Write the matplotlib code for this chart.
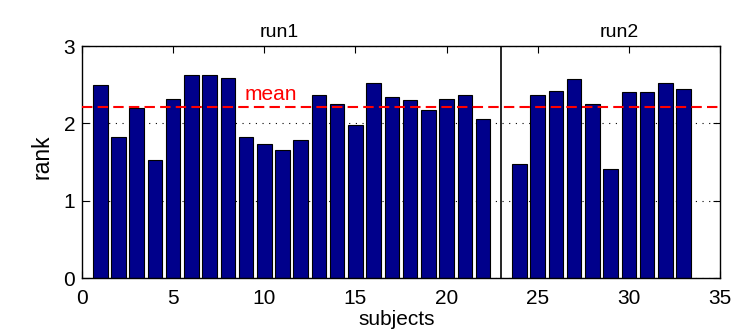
import matplotlib
matplotlib.use("Agg")
import matplotlib.pyplot as plt
import numpy as np

plt.rcParams['font.family'] = ['Liberation Sans', 'DejaVu Sans']

subjects_run1 = list(range(1, 23))
ranks_run1 = [2.49, 1.82, 2.20, 1.53, 2.32, 2.62, 2.62, 2.59, 1.82, 1.73, 1.66,
              1.78, 2.37, 2.25, 1.98, 2.52, 2.34, 2.30, 2.17, 2.32, 2.37, 2.05]
subjects_run2 = list(range(24, 34))
ranks_run2 = [1.48, 2.37, 2.42, 2.57, 2.25, 1.41, 2.40, 2.40, 2.52, 2.45]
mean_rank = 2.21
run_split = 23
xticks = [0, 5, 10, 15, 20, 25, 30, 35]
yticks = [0, 1, 2, 3]

W, H = 753, 331
fig = plt.figure(figsize=(W/100, H/100), dpi=100)
ax = fig.add_axes([82/W, 1 - 278/H, (720-82)/W, (278-46)/H])

bar_color = '#00008B'
ax.bar(subjects_run1, ranks_run1, width=0.8, color=bar_color, edgecolor='black', linewidth=0.8, zorder=2)
ax.bar(subjects_run2, ranks_run2, width=0.8, color=bar_color, edgecolor='black', linewidth=0.8, zorder=2)

ax.axhline(mean_rank, color='red', linestyle=(0, (5, 2.5)), linewidth=1.5, zorder=3)
ax.axvline(run_split, color='black', linewidth=1.2, zorder=3)

ax.set_xlim(0, 35)
ax.set_ylim(0, 3)
ax.set_xticks(xticks)
ax.set_yticks(yticks)
ax.yaxis.grid(True, linestyle=(0, (1, 5)), color='black', linewidth=0.8)
ax.set_axisbelow(True)
ax.tick_params(direction='in', top=True, right=True, length=5, labelsize=15)
ax.tick_params(axis='x', pad=8)
ax.tick_params(axis='y', pad=5)
for s in ax.spines.values():
    s.set_linewidth(1.0)

fig.text(397/W, 6/H, 'subjects', fontsize=15, ha='center', va='baseline')
fig.text(42/W, 1 - 157/H, 'rank', fontsize=16.5, ha='center', va='center', rotation=90)

fig.text(279/W, 1 - 37/H, 'run1', fontsize=14, ha='center', va='baseline')
fig.text(619/W, 1 - 37/H, 'run2', fontsize=14, ha='center', va='baseline')
fig.text(271/W, 1 - 100/H, 'mean', fontsize=15, color='red', ha='center', va='baseline')

fig.savefig('out.png', dpi=100)
